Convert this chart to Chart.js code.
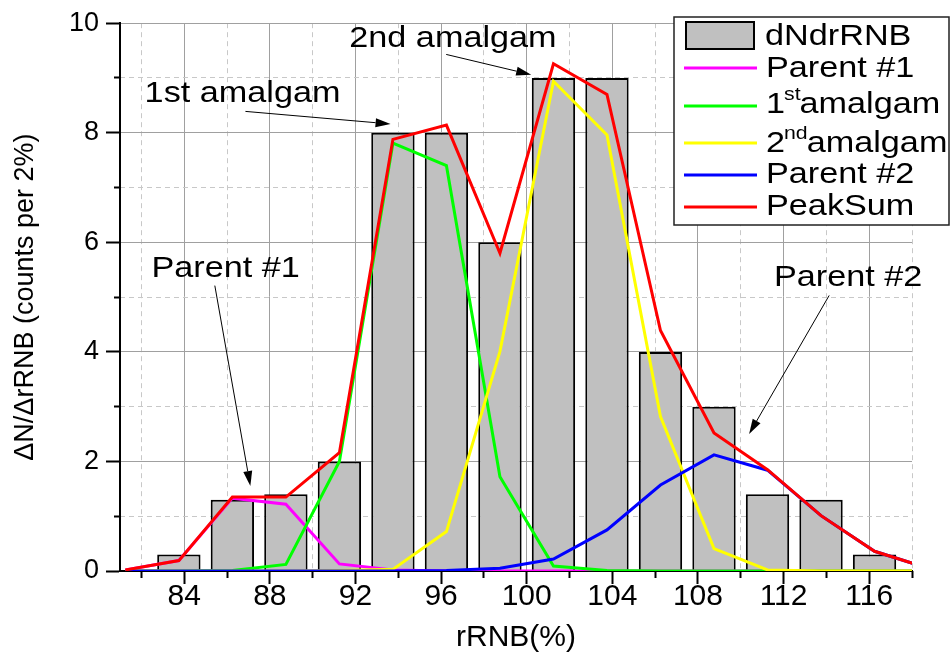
<!DOCTYPE html>
<html>
<head>
<meta charset="utf-8">
<script src="https://cdn.jsdelivr.net/npm/chart.js@4.4.1/dist/chart.umd.min.js"></script>
<style>
  html, body { margin: 0; padding: 0; background: #fff; }
</style>
</head>
<body>
<canvas id="myChart" width="952" height="664"></canvas>
<script>
// bin centres (rRNB %), step 2.5
const binCenters = [81.25, 83.75, 86.25, 88.75, 91.25, 93.75, 96.25, 98.75, 101.25, 103.75, 106.25, 108.75, 111.25, 113.75, 116.25, 118.75];
const barCenters = [83.75, 86.25, 88.75, 91.25, 93.75, 96.25, 98.75, 101.25, 103.75, 106.25, 108.75, 111.25, 113.75, 116.25];
const counts = [0.3, 1.3, 1.4, 2, 8, 8, 6, 9, 9, 4, 3, 1.4, 1.3, 0.3];

const parent1  = [0.02, 0.19, 1.33, 1.22, 0.13, 0.02, 0, 0, 0, 0, 0, 0, 0, 0, 0, 0];
const amalgam1 = [0, 0, 0.01, 0.12, 2.0, 7.81, 7.40, 1.72, 0.09, 0.01, 0, 0, 0, 0, 0, 0];
const amalgam2 = [0, 0, 0, 0, 0.01, 0.03, 0.72, 4.01, 8.94, 7.96, 2.82, 0.41, 0.02, 0, 0, 0];
const parent2  = [0, 0, 0, 0, 0, 0, 0.01, 0.05, 0.22, 0.75, 1.57, 2.12, 1.84, 1.01, 0.36, 0.05];
const peakSum  = [0.02, 0.19, 1.35, 1.35, 2.16, 7.88, 8.14, 5.80, 9.26, 8.70, 4.39, 2.52, 1.85, 1.01, 0.36, 0.05];

const xMajorTicks = [84, 88, 92, 96, 100, 104, 108, 112, 116];
const xMinorTicks = [82, 86, 90, 94, 98, 102, 106, 110, 114, 118];
const yMajorTicks = [0, 2, 4, 6, 8, 10];
const yMinorTicks = [1, 3, 5, 7, 9];

// callouts: text, text anchor (data units), arrow from/to (data units)
const callouts = [
  {text: '1st amalgam', x: 82.15, y: 8.56, fx: 86.86, fy: 8.39, tx: 93.64, ty: 8.16},
  {text: '2nd amalgam', x: 91.71, y: 9.56, fx: 96.24, fy: 9.43, tx: 100.21, ty: 9.06},
  {text: 'Parent #1',   x: 82.47, y: 5.36, fx: 85.43, fy: 5.21, tx: 87.09, ty: 1.55},
  {text: 'Parent #2',   x: 111.55, y: 5.20, fx: 114.13, fy: 5.03, tx: 110.39, ty: 2.50}
];

const FONT = '"Liberation Sans", Arial, sans-serif';
Chart.defaults.font.family = FONT;
Chart.defaults.color = '#000';

const toPts = (xs, ys) => xs.map((x, i) => ({x: x, y: ys[i]}));

const lineDs = (label, ys, color, order) => ({
  type: 'line',
  label: label,
  data: toPts(binCenters, ys),
  borderColor: color,
  backgroundColor: color,
  borderWidth: 3,
  pointRadius: 0,
  tension: 0,
  order: order
});

// stretched text like the original export
function wideText(ctx, str, x, y, size, sx) {
  ctx.save();
  ctx.translate(x, y);
  ctx.scale(sx, 1);
  ctx.font = size + 'px ' + FONT;
  ctx.textBaseline = 'alphabetic';
  ctx.textAlign = 'left';
  ctx.fillStyle = '#000';
  ctx.fillText(str, 0, 0);
  const w = ctx.measureText(str).width * sx;
  ctx.restore();
  return w;
}

function arrow(ctx, x1, y1, x2, y2) {
  const a = Math.atan2(y2 - y1, x2 - x1);
  const len = 15, hw = 4.5;
  const bx = x2 - len * Math.cos(a), by = y2 - len * Math.sin(a);
  ctx.save();
  ctx.strokeStyle = '#000';
  ctx.fillStyle = '#000';
  ctx.lineWidth = 1;
  ctx.beginPath();
  ctx.moveTo(x1, y1);
  ctx.lineTo(bx, by);
  ctx.stroke();
  ctx.beginPath();
  ctx.moveTo(x2, y2);
  ctx.lineTo(bx + hw * Math.sin(a), by - hw * Math.cos(a));
  ctx.lineTo(bx - hw * Math.sin(a), by + hw * Math.cos(a));
  ctx.closePath();
  ctx.fill();
  ctx.restore();
}

const decor = {
  id: 'decor',
  afterDraw(chart) {
    const ctx = chart.ctx;
    const xs = chart.scales.x, ys = chart.scales.y;
    const S = 29, SX = 1.18;

    callouts.forEach(c => {
      wideText(ctx, c.text, xs.getPixelForValue(c.x), ys.getPixelForValue(c.y), S, SX);
      arrow(ctx, xs.getPixelForValue(c.fx), ys.getPixelForValue(c.fy),
                 xs.getPixelForValue(c.tx), ys.getPixelForValue(c.ty));
    });

    // legend box
    ctx.save();
    ctx.fillStyle = '#fff';
    ctx.fillRect(674, 17, 275, 208);
    ctx.strokeStyle = '#222';
    ctx.lineWidth = 1.5;
    ctx.strokeRect(674, 17, 275, 208);

    const ds = chart.data.datasets;
    // bar swatch
    ctx.fillStyle = ds[0].backgroundColor;
    ctx.fillRect(686, 22, 68, 27);
    ctx.strokeStyle = '#000';
    ctx.lineWidth = 2;
    ctx.strokeRect(686, 22, 68, 27);
    wideText(ctx, ds[0].label, 765, 45, S, SX);

    const rows = [
      {i: 1, ly: 68, by: 77},
      {i: 2, ly: 106, by: 113, sup: ['1', 'st', 'amalgam']},
      {i: 3, ly: 143, by: 152, sup: ['2', 'nd', 'amalgam']},
      {i: 4, ly: 175, by: 183},
      {i: 5, ly: 207, by: 215}
    ];
    rows.forEach(r => {
      ctx.strokeStyle = ds[r.i].borderColor;
      ctx.lineWidth = 3;
      ctx.beginPath();
      ctx.moveTo(684, r.ly);
      ctx.lineTo(757, r.ly);
      ctx.stroke();
      if (r.sup) {
        let x = 766;
        x += wideText(ctx, r.sup[0], x, r.by, S, SX);
        x += wideText(ctx, r.sup[1], x - 1, r.by - 13, 18, SX) - 2;
        wideText(ctx, r.sup[2], x, r.by, S, SX);
      } else {
        wideText(ctx, ds[r.i].label, 766, r.by, S, SX);
      }
    });
    ctx.restore();
  }
};

const ctx = document.getElementById('myChart').getContext('2d');
const myChart = new Chart(ctx, {
  type: 'line',
  data: {
    datasets: [
      {
        type: 'bar',
        label: 'dNdrRNB',
        data: toPts(barCenters, counts),
        backgroundColor: '#c0c0c0',
        borderColor: '#000',
        borderWidth: 2,
        barPercentage: 1,
        categoryPercentage: 0.81,
        order: 6
      },
      lineDs('Parent #1', parent1, '#ff00ff', 5),
      lineDs('1st amalgam', amalgam1, '#00ff00', 4),
      lineDs('2nd amalgam', amalgam2, '#ffff00', 3),
      lineDs('Parent #2', parent2, '#0000ff', 2),
      lineDs('PeakSum', peakSum, '#ff0000', 1)
    ]
  },
  options: {
    responsive: false,
    animation: false,
    layout: { padding: { left: 0, right: 40, top: 19, bottom: 8 } },
    plugins: { legend: { display: false }, tooltip: { enabled: false } },
    scales: {
      x: {
        type: 'linear', position: 'bottom', min: 81, max: 118, weight: 1, offset: false,
        afterBuildTicks: s => { s.ticks = xMajorTicks.map(v => ({value: v})); },
        afterFit: s => { s.height = 85; },
        ticks: { color: '#000', font: { size: 30 }, padding: -5, maxRotation: 0, autoSkip: false },
        grid: { color: '#a0a0a0', lineWidth: 1, tickColor: '#000', tickWidth: 2, tickLength: 13, offset: false },
        border: { color: '#000', width: 2 },
        title: { display: true, text: 'rRNB(%)', color: '#000', font: { size: 30 }, padding: { top: 0, bottom: 0 } }
      },
      x2: {
        type: 'linear', position: 'bottom', min: 81, max: 118, weight: 0, offset: false,
        afterBuildTicks: s => { s.ticks = xMinorTicks.map(v => ({value: v})); },
        afterFit: s => { s.height = 0; },
        ticks: { display: false },
        grid: { color: '#c8c8c8', lineWidth: 1, tickColor: '#000', tickWidth: 2, tickLength: 7, offset: false },
        border: { display: false, dash: [5, 4] }
      },
      y: {
        type: 'linear', position: 'left', min: 0, max: 10, weight: 1,
        afterBuildTicks: s => { s.ticks = yMajorTicks.map(v => ({value: v})); },
        afterFit: s => { s.width = 120; },
        ticks: { color: '#000', font: { size: 27 }, padding: 7 },
        grid: { color: '#a0a0a0', lineWidth: 1, tickColor: '#000', tickWidth: 2, tickLength: 14 },
        border: { color: '#000', width: 2 },
        title: { display: true, text: 'ΔN/ΔrRNB (counts per 2%)', color: '#000', font: { size: 27 }, padding: { top: 9, bottom: 0 } }
      },
      y2: {
        type: 'linear', position: 'left', min: 0, max: 10, weight: 0,
        afterBuildTicks: s => { s.ticks = yMinorTicks.map(v => ({value: v})); },
        afterFit: s => { s.width = 0; },
        ticks: { display: false },
        grid: { color: '#c8c8c8', lineWidth: 1, tickColor: '#000', tickWidth: 2, tickLength: 6 },
        border: { display: false, dash: [5, 4] }
      }
    }
  },
  plugins: [decor]
});
</script>
</body>
</html>
